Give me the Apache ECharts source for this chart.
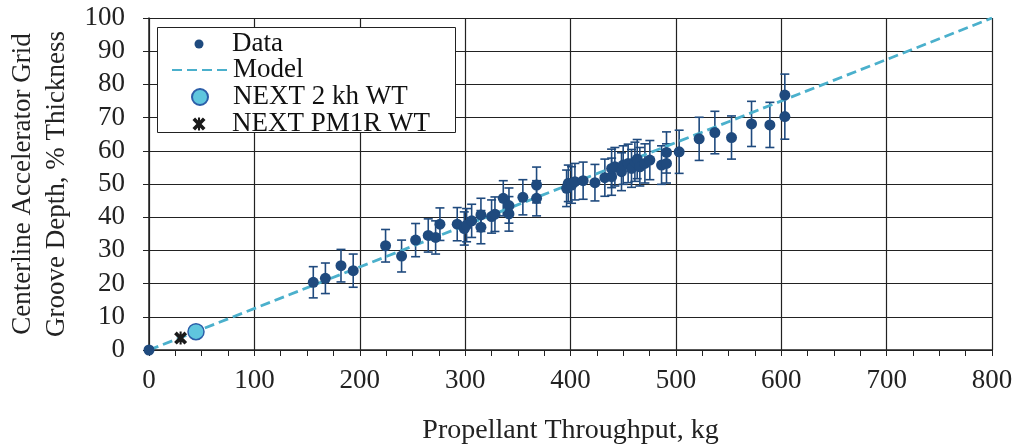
<!DOCTYPE html>
<html>
<head>
<meta charset="utf-8">
<script src="https://cdn.jsdelivr.net/npm/echarts@6/dist/echarts.min.js"></script>
<style>
html,body{margin:0;padding:0;background:#fff;}
#chart{width:1016px;height:444px;}
</style>
</head>
<body>
<div id="chart"></div>
<script>
// Measured data: propellant throughput (kg), groove depth (% thickness), error (+/-)
var throughput = [0, 155.9, 167.4, 182.2, 193.8, 224.5, 239.7, 253.0, 265.0, 272.0,
  276.1, 292.5, 299.2, 301.4, 306.2, 315.0, 315.0, 325.1, 328.3, 336.2,
  341.6, 341.6, 354.8, 367.8, 367.8, 396.3, 397.9, 401.0, 404.2, 412.0,
  423.2, 432.6, 439.0, 439.0, 442.1, 448.4, 450.0, 454.7, 457.9, 461.1,
  463.3, 465.8, 470.6, 475.3, 486.4, 491.1, 491.1, 503.1, 522.1, 537.0,
  552.8, 571.8, 589.2, 603.4, 603.4];
var depth = [0, 20.4, 21.6, 25.4, 23.9, 31.4, 28.3, 33.1, 34.5, 33.9,
  37.9, 37.9, 36.6, 37.6, 38.9, 40.7, 37.0, 40.2, 40.9, 45.7,
  43.5, 41.0, 46.0, 49.7, 45.7, 48.7, 50.2, 49.7, 50.7, 51.0,
  50.4, 51.9, 52.2, 54.7, 55.2, 53.7, 55.7, 56.2, 54.7, 56.7,
  57.5, 55.2, 56.2, 57.2, 55.7, 56.2, 59.5, 59.7, 63.6, 65.5,
  64.0, 68.1, 67.8, 76.8, 70.3];
var depthErr = [0, 4.7, 4.6, 4.9, 5.0, 4.9, 4.8, 5.0, 5.0, 5.0,
  4.9, 5.0, 5.0, 5.0, 5.0, 5.0, 5.0, 5.0, 5.2, 5.3,
  5.3, 5.2, 5.3, 5.4, 5.3, 5.5, 5.5, 5.5, 5.5, 5.6,
  5.5, 5.6, 5.6, 5.8, 5.8, 5.7, 5.8, 5.8, 5.7, 5.9,
  5.9, 5.8, 5.9, 5.9, 5.8, 5.9, 6.2, 6.5, 6.5, 6.4,
  6.5, 6.8, 6.8, 6.3, 6.8];

// Model line
var modelX = [0, 800];
var modelY = [0, 100];

// Single test points
var next2khX = [44.6], next2khY = [5.5];
var pm1rX = [30.0], pm1rY = [3.6];

// Axis ticks
var xTicks = [0, 100, 200, 300, 400, 500, 600, 700, 800];
var yTicks = [0, 10, 20, 30, 40, 50, 60, 70, 80, 90, 100];

var FONT = '"Liberation Serif", "DejaVu Serif", serif';
var DARK = '#1f4a7e';
var MODEL = '#4bb0cc';

function zip(a, b, c) {
  return a.map(function (v, i) { return c ? [v, b[i], c[i]] : [v, b[i]]; });
}

var chart = echarts.init(document.getElementById('chart'));
var ICON_CX = 199, LEG_FS = 27;
var legendBase = {
  orient: 'vertical', padding: 0, itemWidth: 56, itemGap: 0,
  textStyle: { fontFamily: FONT, fontSize: LEG_FS, color: '#111', lineHeight: LEG_FS },
  selectedMode: false, z: 5
};
function legendAt(item, cy, h, isLine) {
  var left = isLine ? ICON_CX - 28 : ICON_CX - h / 2;
  return Object.assign({}, legendBase, { data: [item], top: cy - LEG_FS / 2, left: left, itemHeight: h });
}

var option = {
  animation: false,
  backgroundColor: '#fff',
  grid: { left: 149, right: 24, top: 18, bottom: 94, containLabel: false, outerBoundsMode: 'none' },
  graphic: [{
    type: 'rect', left: 157, top: 27, z: 4,
    shape: { width: 298, height: 105 },
    style: { fill: '#fff', stroke: '#222', lineWidth: 1 }
  }],
  legend: [
    legendAt('Data', 44, 9, false),
    legendAt({ name: 'Model', itemStyle: { color: 'rgba(0,0,0,0)', borderWidth: 0, opacity: 0 } }, 70, 14, true),
    legendAt('NEXT 2 kh WT', 97, 16, false),
    legendAt('NEXT PM1R WT', 124, 13, false)
  ],
  xAxis: {
    type: 'value', min: xTicks[0], max: xTicks[xTicks.length - 1], interval: 100,
    name: 'Propellant Throughput, kg', nameLocation: 'middle', nameGap: 67,
    nameTextStyle: { fontFamily: FONT, fontSize: 28, color: '#222', lineHeight: 28 },
    axisLine: { show: true, lineStyle: { color: '#222', width: 1.5 } },
    axisTick: { show: true, inside: false, length: 6, lineStyle: { color: '#222' } },
    minorTick: { show: true, splitNumber: 4, length: 6, lineStyle: { color: '#222' } },
    axisLabel: { fontFamily: FONT, fontSize: 27, color: '#222', margin: 17 },
    splitLine: { show: true, lineStyle: { color: '#222', width: 1.2 } }
  },
  yAxis: {
    type: 'value', min: yTicks[0], max: yTicks[yTicks.length - 1], interval: 10,
    name: 'Centerline Accelerator Grid\nGroove Depth, % Thickness',
    nameLocation: 'middle', nameGap: 75, nameRotate: 90,
    nameTextStyle: { fontFamily: FONT, fontSize: 27, color: '#222', lineHeight: 34 },
    axisLine: { show: true, lineStyle: { color: '#222', width: 1.5 } },
    axisTick: { show: true, inside: false, length: 6, lineStyle: { color: '#222' } },
    axisLabel: { fontFamily: FONT, fontSize: 27, color: '#222', margin: 24 },
    splitLine: { show: true, lineStyle: { color: '#222', width: 1.2 } }
  },
  series: [
    {
      name: 'ErrorBars', type: 'custom', z: 2,
      data: zip(throughput, depth, depthErr),
      renderItem: function (params, api) {
        var x = api.value(0), y = api.value(1), e = api.value(2);
        if (!e) return null;
        var t = api.coord([x, y + e]), b = api.coord([x, y - e]);
        var w = 4.5;
        var st = { stroke: DARK, lineWidth: 1.6 };
        return {
          type: 'group', children: [
            { type: 'line', shape: { x1: t[0], y1: t[1], x2: b[0], y2: b[1] }, style: st },
            { type: 'line', shape: { x1: t[0] - w, y1: t[1], x2: t[0] + w, y2: t[1] }, style: st },
            { type: 'line', shape: { x1: b[0] - w, y1: b[1], x2: b[0] + w, y2: b[1] }, style: st }
          ]
        };
      }
    },
    {
      name: 'Model', type: 'line', z: 3, symbol: 'none',
      data: zip(modelX, modelY),
      lineStyle: { color: MODEL, width: 2.8, type: [10, 5] },
      itemStyle: { color: MODEL }
    },
    {
      name: 'Data', type: 'scatter', z: 4, symbol: 'circle', symbolSize: 11,
      data: zip(throughput, depth),
      itemStyle: { color: DARK, opacity: 1 }
    },
    {
      name: 'NEXT 2 kh WT', type: 'scatter', z: 5, symbol: 'circle', symbolSize: 16,
      data: zip(next2khX, next2khY),
      itemStyle: { color: '#5fc6de', borderColor: '#2c5ea8', borderWidth: 1.5, opacity: 1 }
    },
    {
      name: 'NEXT PM1R WT', type: 'scatter', z: 5, symbolSize: 13,
      symbol: 'path://M0,2 L2,0 L5,3 L8,0 L10,2 L7,5 L10,8 L8,10 L5,7 L2,10 L0,8 L3,5 Z M4.2,0 L5.8,0 L5.8,10 L4.2,10 Z',
      data: zip(pm1rX, pm1rY),
      itemStyle: { color: '#1a1a1a', opacity: 1 }
    }
  ]
};
chart.setOption(option);
</script>
</body>
</html>
